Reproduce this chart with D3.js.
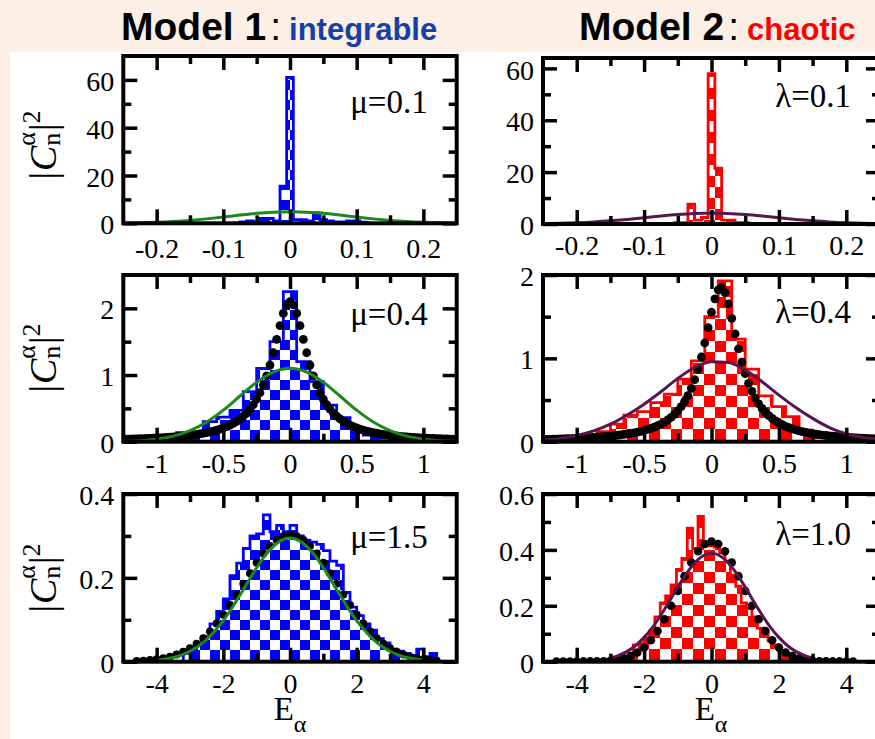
<!DOCTYPE html>
<html>
<head>
<meta charset="utf-8">
<script src="https://cdn.jsdelivr.net/npm/d3@7"></script>
<style>
  html, body { margin: 0; padding: 0; background: #fcefe6; }
  svg { display: block; }
</style>
</head>
<body>
<svg id="fig" width="875" height="739"></svg>
<script>
// ---------------- data ----------------
// axis ticks
const xMajorRow1 = [-0.2, -0.1, 0, 0.1, 0.2];
const xMinorRow1 = [-0.15, -0.05, 0.05, 0.15];
const xMajorRow2 = [-1, -0.5, 0, 0.5, 1];
const xMinorRow2 = [-0.75, -0.25, 0.25, 0.75];
const xMajorRow3 = [-4, -2, 0, 2, 4];
const xMinorRow3 = [-3, -1, 1, 3];
const yMajorTop = [0, 20, 40, 60];
const yMinorTop = [10, 30, 50];
const yMajorMid = [0, 1, 2];
const yMinorMid = [0.5, 1.5];
const yMajorBotL = [0, 0.2, 0.4];
const yMinorBotL = [0.1, 0.3];
const yMajorBotR = [0, 0.2, 0.4, 0.6];
const yMinorBotR = [0.1, 0.3, 0.5];

// panel labels
const labelsModel1 = ["μ=0.1", "μ=0.4", "μ=1.5"];
const labelsModel2 = ["λ=0.1", "λ=0.4", "λ=1.0"];

// histograms: first bin left edge, bin width, bin heights
const histStartTL = -0.075, histWidthTL = 0.01;
const histTL = [0.6, 1.0, 0.5, 2.0, 2.0, 1.0, 15.5, 61, 1.5, 1.5, 1.0, 4.3, 1.5, 1.0, 0.6, 0.6, 1.0, 1.0, 0.5];
const histStartTR = -0.055, histWidthTR = 0.01;
const histTR = [0.5, 0.5, 7.7, 1.5, 2.5, 58, 21.5, 1.5, 1.5, 0.5, 0.5];
const histStartML = -0.85, histWidthML = 0.1;
const histML = [0.135, 0.135, 0.30, 0.37, 0.47, 0.75, 1.10, 1.50, 2.25, 1.20, 0.90, 0.55, 0.36, 0.21, 0.10, 0.05, 0.02];
const histStartMR = -0.95, histWidthMR = 0.1;
const histMR = [0.05, 0.12, 0.21, 0.32, 0.36, 0.47, 0.57, 0.75, 0.97, 1.5, 1.93, 1.23, 0.87, 0.55, 0.42, 0.3, 0.14, 0.05];
const histStartBL = -3.2, histWidthBL = 0.2;
const histBL = [0.02, 0.03, 0.045, 0.06, 0.09, 0.12, 0.15, 0.205, 0.235, 0.27, 0.30, 0.305, 0.35, 0.31, 0.325, 0.31,
                0.325, 0.30, 0.29, 0.285, 0.28, 0.265, 0.24, 0.23, 0.165, 0.13, 0.11, 0.09, 0.075, 0.055, 0.045,
                0.03, 0.025, 0.02, 0.015, 0.03, 0.012, 0.02];
const histStartBR = -2.32, histWidthBR = 0.16;
const histBR = [0.06, 0.065, 0.085, 0.11, 0.16, 0.21, 0.235, 0.275, 0.33, 0.37, 0.478, 0.405, 0.52, 0.42, 0.415,
                0.41, 0.39, 0.36, 0.31, 0.27, 0.21, 0.19, 0.16, 0.12, 0.10, 0.075, 0.06, 0.04, 0.02];

// smooth envelopes (sampled): x start, step, values
const curveStartTL = -0.25, curveStepTL = 0.025;
const curveTL = [0.10, 0.21, 0.41, 0.73, 1.21, 1.85, 2.62, 3.43, 4.16, 4.67, 4.85, 4.67, 4.16, 3.43, 2.62, 1.85, 1.21, 0.73, 0.41, 0.21, 0.10];
const curveStartTR = -0.25, curveStepTR = 0.025;
const curveTR = [0.13, 0.25, 0.46, 0.77, 1.21, 1.77, 2.41, 3.08, 3.66, 4.06, 4.2, 4.06, 3.66, 3.08, 2.41, 1.77, 1.21, 0.77, 0.46, 0.25, 0.13];
const curveStartML = -1.25, curveStepML = 0.125;
const curveML = [0.006, 0.015, 0.038, 0.083, 0.165, 0.295, 0.473, 0.685, 0.891, 1.044, 1.10, 1.044, 0.891, 0.685, 0.473, 0.295, 0.165, 0.083, 0.038, 0.015, 0.006];
const curveStartMR = -1.25, curveStepMR = 0.125;
const curveMR = [0.02, 0.04, 0.075, 0.13, 0.21, 0.32, 0.45, 0.6, 0.76, 0.89, 0.96, 0.95, 0.86, 0.72, 0.56, 0.41, 0.28, 0.17, 0.095, 0.05, 0.025];
const curveStartBL = -4, curveStepBL = 0.25;
const curveBL = [0.0037, 0.0062, 0.010, 0.016, 0.025, 0.037, 0.053, 0.074, 0.098, 0.127, 0.159, 0.192, 0.224, 0.253, 0.275, 0.290, 0.295,
                 0.290, 0.275, 0.253, 0.224, 0.192, 0.159, 0.127, 0.098, 0.074, 0.053, 0.037, 0.025, 0.016, 0.010, 0.0062, 0.0037];
const curveStartBR = -3, curveStepBR = 0.25;
const curveBR = [0.013, 0.023, 0.037, 0.058, 0.087, 0.123, 0.167, 0.216, 0.267, 0.314, 0.353, 0.379, 0.388,
                 0.379, 0.353, 0.314, 0.267, 0.216, 0.167, 0.123, 0.087, 0.058, 0.037, 0.023, 0.013];

// local density of states (black points): x start, step, values
const dotsStartML = -1.25, dotsStepML = 0.025;
const dotsML = [0.036, 0.037, 0.039, 0.041, 0.042, 0.044, 0.046, 0.048, 0.051, 0.053,
                0.056, 0.058, 0.061, 0.065, 0.068, 0.072, 0.076, 0.081, 0.086, 0.091,
                0.097, 0.103, 0.111, 0.118, 0.127, 0.137, 0.148, 0.160, 0.173, 0.189,
                0.206, 0.226, 0.249, 0.275, 0.305, 0.341, 0.382, 0.430, 0.488, 0.556,
                0.637, 0.734, 0.851, 0.988, 1.150, 1.334, 1.536, 1.740, 1.923, 2.053,
                2.1,
                2.053, 1.923, 1.740, 1.536, 1.334, 1.150, 0.988, 0.851, 0.734, 0.637,
                0.556, 0.488, 0.430, 0.382, 0.341, 0.305, 0.275, 0.249, 0.226, 0.206,
                0.189, 0.173, 0.160, 0.148, 0.137, 0.127, 0.118, 0.111, 0.103, 0.097,
                0.091, 0.086, 0.081, 0.076, 0.072, 0.068, 0.065, 0.061, 0.058, 0.056,
                0.053, 0.051, 0.048, 0.046, 0.044, 0.042, 0.041, 0.039, 0.037, 0.036];
const dotsStartMR = -1.25, dotsStepMR = 0.025;
const dotsMR = [0.0268, 0.0278, 0.0289, 0.0301, 0.0313, 0.0326, 0.0340, 0.0354, 0.0370, 0.0387,
                0.0405, 0.0424, 0.0444, 0.0466, 0.0490, 0.0516, 0.0543, 0.0573, 0.0605, 0.0640,
                0.0679, 0.0720, 0.0766, 0.0816, 0.0871, 0.0931, 0.0998, 0.107, 0.116, 0.125,
                0.135, 0.147, 0.160, 0.175, 0.192, 0.212, 0.234, 0.261, 0.291, 0.327,
                0.370, 0.420, 0.481, 0.553, 0.640, 0.744, 0.869, 1.016, 1.184, 1.368,
                1.553,
                1.714, 1.822, 1.848, 1.787, 1.654, 1.480, 1.293, 1.114, 0.954, 0.817,
                0.700, 0.603, 0.523, 0.455, 0.399, 0.352, 0.312, 0.279, 0.250, 0.225,
                0.204, 0.185, 0.169, 0.155, 0.142, 0.131, 0.121, 0.112, 0.104, 0.097,
                0.091, 0.085, 0.080, 0.075, 0.070, 0.066, 0.063, 0.059, 0.056, 0.053,
                0.051, 0.048, 0.046, 0.044, 0.042, 0.040, 0.038, 0.036, 0.035, 0.033];
const dotsStartBL = -4.6, dotsStepBL = 0.2;
const dotsBL = [0.0015, 0.0025, 0.004, 0.006, 0.008, 0.012, 0.017, 0.024, 0.032, 0.043, 0.056, 0.072, 0.091, 0.112,
                0.135, 0.160, 0.186, 0.211, 0.236, 0.258, 0.276, 0.290, 0.299, 0.302, 0.299, 0.290, 0.276, 0.258,
                0.236, 0.211, 0.186, 0.160, 0.135, 0.112, 0.091, 0.072, 0.056, 0.043, 0.032, 0.024, 0.017, 0.012,
                0.008, 0.006, 0.004, 0.0025];
const dotsStartBR = -4.6, dotsStepBR = 0.2;
const dotsBR = [0.0005, 0.0005, 0.0007, 0.0009, 0.001, 0.001, 0.0012, 0.0017, 0.0036, 0.0067, 0.012, 0.020, 0.033,
                0.051, 0.077, 0.110, 0.152, 0.200, 0.253, 0.306, 0.355, 0.395, 0.421, 0.430, 0.421, 0.395, 0.355,
                0.306, 0.253, 0.200, 0.152, 0.110, 0.077, 0.051, 0.033, 0.020, 0.012, 0.0067, 0.0036, 0.0017,
                0.0012, 0.001, 0.001, 0.0009, 0.0007];

// ---------------- styling ----------------
const SERIF = "'Liberation Serif','Times New Roman',Times,serif";
const SANS = "'Liberation Sans',Arial,Helvetica,sans-serif";
const BLUE = "#0000ff", RED = "#ff0000", GREEN = "#1a8a1a", PURPLE = "#5a1450";

const sampled = (start, step, vals) => vals.map((v, i) => [start + i * step, v]);
const binned = (start, width, vals) => vals.map((v, i) => ({x0: start + i * width, x1: start + (i + 1) * width, v}));

const panels = [
  {id: "tl", left: 123.3, right: 456.7, top: 56, bottom: 223.3, xDomain: [-0.25, 0.25], yDomain: [0, 70],
   xMajor: xMajorRow1, xMinor: xMinorRow1, yMajor: yMajorTop, yMinor: yMinorTop, xPad: 15,
   bins: binned(histStartTL, histWidthTL, histTL), color: BLUE, pattern: "checkBlue",
   curve: sampled(curveStartTL, curveStepTL, curveTL), curveColor: GREEN, dots: null,
   label: labelsModel1[0], labelDy: 57},
  {id: "tr", left: 543, right: 880, top: 58, bottom: 224, xDomain: [-0.25, 0.25], yDomain: [0, 64],
   xMajor: xMajorRow1, xMinor: xMinorRow1, yMajor: yMajorTop, yMinor: yMinorTop, xPad: 11,
   bins: binned(histStartTR, histWidthTR, histTR), color: RED, pattern: "checkRed",
   curve: sampled(curveStartTR, curveStepTR, curveTR), curveColor: PURPLE, dots: null,
   label: labelsModel2[0], labelDy: 49},
  {id: "ml", left: 123.3, right: 456.7, top: 275, bottom: 441.7, xDomain: [-1.25, 1.25], yDomain: [0, 2.5],
   xMajor: xMajorRow2, xMinor: xMinorRow2, yMajor: yMajorMid, yMinor: yMinorMid, xPad: 11,
   bins: binned(histStartML, histWidthML, histML), color: BLUE, pattern: "checkBlue",
   curve: sampled(curveStartML, curveStepML, curveML), curveColor: GREEN,
   dots: sampled(dotsStartML, dotsStepML, dotsML), dotR: 4.4,
   label: labelsModel1[1], labelDy: 50},
  {id: "mr", left: 543, right: 880, top: 275, bottom: 441.7, xDomain: [-1.25, 1.25], yDomain: [0, 2],
   xMajor: xMajorRow2, xMinor: xMinorRow2, yMajor: yMajorMid, yMinor: yMinorMid, xPad: 11,
   bins: binned(histStartMR, histWidthMR, histMR), color: RED, pattern: "checkRed",
   curve: sampled(curveStartMR, curveStepMR, curveMR), curveColor: PURPLE,
   dots: sampled(dotsStartMR, dotsStepMR, dotsMR), dotR: 4.4,
   label: labelsModel2[1], labelDy: 48},
  {id: "bl", left: 123.3, right: 456.7, top: 494, bottom: 661.7, xDomain: [-5, 5], yDomain: [0, 0.4],
   xMajor: xMajorRow3, xMinor: xMinorRow3, yMajor: yMajorBotL, yMinor: yMinorBotL, xPad: 11,
   bins: binned(histStartBL, histWidthBL, histBL), color: BLUE, pattern: "checkBlue",
   curve: sampled(curveStartBL, curveStepBL, curveBL), curveColor: GREEN,
   dots: sampled(dotsStartBL, dotsStepBL, dotsBL), dotR: 4,
   label: labelsModel1[2], labelDy: 54},
  {id: "br", left: 543, right: 880, top: 494, bottom: 661.7, xDomain: [-5, 5], yDomain: [0, 0.6],
   xMajor: xMajorRow3, xMinor: xMinorRow3, yMajor: yMajorBotR, yMinor: yMinorBotR, xPad: 11,
   bins: binned(histStartBR, histWidthBR, histBR), color: RED, pattern: "checkRed",
   curve: sampled(curveStartBR, curveStepBR, curveBR), curveColor: PURPLE,
   dots: sampled(dotsStartBR, dotsStepBR, dotsBR), dotR: 4.3,
   label: labelsModel2[2], labelDy: 51}
];

// ---------------- drawing ----------------
const svg = d3.select("#fig");
const defs = svg.append("defs");

function checker(id, color, size) {
  const p = defs.append("pattern").attr("id", id).attr("patternUnits", "userSpaceOnUse")
    .attr("width", size * 2).attr("height", size * 2);
  p.append("rect").attr("width", size * 2).attr("height", size * 2).attr("fill", "#fff");
  p.append("rect").attr("width", size).attr("height", size).attr("fill", color);
  p.append("rect").attr("x", size).attr("y", size).attr("width", size).attr("height", size).attr("fill", color);
}
checker("checkBlue", BLUE, 10);
checker("checkRed", RED, 11);

// page background and white sheet
svg.append("rect").attr("width", 875).attr("height", 739).attr("fill", "#fcefe6");
svg.append("rect").attr("x", 10).attr("y", 52).attr("width", 865).attr("height", 687).attr("fill", "#fff");

// column titles
const t1 = svg.append("text").attr("x", 121).attr("y", 40).style("font-family", SANS)
  .attr("font-size", 39).attr("font-weight", "bold").attr("fill", "#000");
t1.append("tspan").text("Model 1");
t1.append("tspan").attr("font-weight", "normal").attr("dx", 4).text(":");
t1.append("tspan").attr("font-size", 31).attr("fill", "#1440a8").attr("dx", 8).text("integrable");

const t2 = svg.append("text").attr("x", 579).attr("y", 40).style("font-family", SANS)
  .attr("font-size", 39).attr("font-weight", "bold").attr("fill", "#000");
t2.append("tspan").text("Model 2");
t2.append("tspan").attr("font-weight", "normal").attr("dx", 4).text(":");
t2.append("tspan").attr("font-size", 31).attr("fill", RED).attr("dx", 8).text("chaotic");

panels.forEach(p => {
  const x = d3.scaleLinear().domain(p.xDomain).range([p.left, p.right]);
  const y = d3.scaleLinear().domain(p.yDomain).range([p.bottom, p.top]);
  const g = svg.append("g");

  defs.append("clipPath").attr("id", "clip-" + p.id)
    .append("rect").attr("x", p.left).attr("y", p.top)
    .attr("width", p.right - p.left).attr("height", p.bottom - p.top);
  const plot = g.append("g").attr("clip-path", `url(#clip-${p.id})`);

  // histogram: step outline closed to the baseline
  const pts = [[p.bins[0].x0, 0]];
  p.bins.forEach(b => { pts.push([b.x0, b.v]); pts.push([b.x1, b.v]); });
  pts.push([p.bins[p.bins.length - 1].x1, 0]);
  const step = d3.line().x(d => x(d[0])).y(d => y(d[1]));
  plot.append("path").attr("d", step(pts))
    .attr("fill", `url(#${p.pattern})`).attr("stroke", p.color)
    .attr("stroke-width", 2.8).attr("stroke-linejoin", "miter");

  // points
  if (p.dots) {
    plot.selectAll("circle.dot").data(p.dots).join("circle")
      .attr("class", "dot").attr("cx", d => x(d[0])).attr("cy", d => y(d[1]))
      .attr("r", p.dotR).attr("fill", "#000");
  }

  // smooth envelope
  const smooth = d3.line().curve(d3.curveMonotoneX).x(d => x(d[0])).y(d => y(d[1]));
  plot.append("path").attr("d", smooth(p.curve)).attr("fill", "none")
    .attr("stroke", p.curveColor).attr("stroke-width", 3);

  // ticks on all four sides, pointing inward
  const styleAxis = sel => {
    sel.select(".domain").remove();
    sel.selectAll(".tick line").attr("stroke", "#000").attr("stroke-width", 3.5);
    sel.selectAll(".tick text").style("font-family", SERIF).style("font-size", "28px").attr("fill", "#000");
  };
  const fmt = d => String(d);

  g.append("g").attr("transform", `translate(0,${p.bottom})`)
    .call(d3.axisBottom(x).tickValues(p.xMajor).tickSize(-14).tickPadding(p.xPad).tickFormat(fmt)).call(styleAxis);
  g.append("g").attr("transform", `translate(0,${p.bottom})`)
    .call(d3.axisBottom(x).tickValues(p.xMinor).tickSize(-8).tickFormat("")).call(styleAxis);
  g.append("g").attr("transform", `translate(0,${p.top})`)
    .call(d3.axisTop(x).tickValues(p.xMajor).tickSize(-14).tickFormat("")).call(styleAxis);
  g.append("g").attr("transform", `translate(0,${p.top})`)
    .call(d3.axisTop(x).tickValues(p.xMinor).tickSize(-8).tickFormat("")).call(styleAxis);

  const yl = g.append("g").attr("transform", `translate(${p.left},0)`)
    .call(d3.axisLeft(y).tickValues(p.yMajor).tickSize(-14).tickPadding(9).tickFormat(fmt)).call(styleAxis);
  yl.selectAll(".tick text").attr("dy", "0.38em");
  g.append("g").attr("transform", `translate(${p.left},0)`)
    .call(d3.axisLeft(y).tickValues(p.yMinor).tickSize(-8).tickFormat("")).call(styleAxis);
  g.append("g").attr("transform", `translate(${p.right},0)`)
    .call(d3.axisRight(y).tickValues(p.yMajor).tickSize(-14).tickFormat("")).call(styleAxis);
  g.append("g").attr("transform", `translate(${p.right},0)`)
    .call(d3.axisRight(y).tickValues(p.yMinor).tickSize(-8).tickFormat("")).call(styleAxis);

  // frame
  g.append("rect").attr("x", p.left).attr("y", p.top)
    .attr("width", p.right - p.left).attr("height", p.bottom - p.top)
    .attr("fill", "none").attr("stroke", "#000").attr("stroke-width", 4);

  // parameter label
  g.append("text").attr("x", p.right - 29).attr("y", p.top + p.labelDy)
    .attr("text-anchor", "end").style("font-family", SERIF).attr("font-size", 33)
    .text(p.label);
});

// y-axis titles |C_n^α|^2 for the left column
[145, 358, 578].forEach(cy => {
  const t = svg.append("text").attr("transform", `translate(56,${cy}) rotate(-90)`)
    .attr("text-anchor", "middle").style("font-family", SERIF).attr("font-size", 38).attr("fill", "#000");
  t.append("tspan").text("|");
  t.append("tspan").attr("font-style", "italic").attr("dx", 1).text("C");
  t.append("tspan").attr("font-size", 26).attr("dy", 4).text("n");
  t.append("tspan").attr("font-size", 26).attr("dx", -13).attr("dy", -25).text("α");
  t.append("tspan").attr("dx", 1).attr("dy", 21).text("|");
  t.append("tspan").attr("font-size", 26).attr("dy", -16).text("2");
});

// x-axis titles E_α
[290, 711].forEach(cx => {
  const t = svg.append("text").attr("x", cx).attr("y", 720).attr("text-anchor", "middle")
    .style("font-family", SERIF).attr("font-size", 33).attr("fill", "#000");
  t.append("tspan").text("E");
  t.append("tspan").attr("font-size", 24).attr("dy", 12).text("α");
});
</script>
</body>
</html>
